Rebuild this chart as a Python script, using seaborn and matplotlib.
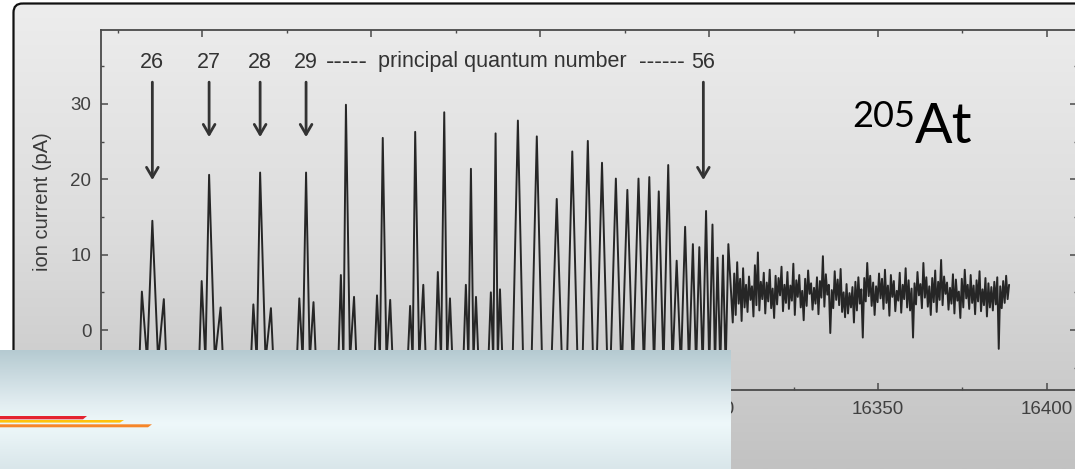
import numpy as np
import pandas as pd
import matplotlib
matplotlib.use("Agg")
import matplotlib.pyplot as plt
import seaborn as sns
from matplotlib.patches import FancyBboxPatch, Polygon
from matplotlib.colors import LinearSegmentedColormap
from matplotlib.ticker import MultipleLocator

# ---------------- data ----------------
# main resonance peaks: wavenumber (cm-1) and ion current (pA)
peak_pos = [16135.2, 16152.0, 16167.1, 16180.7, 16192.5, 16203.4, 16213.0, 16221.6,
            16229.5, 16236.8, 16243.4, 16249.0, 16254.9, 16259.5, 16264.1, 16268.3,
            16272.4, 16275.8, 16279.1, 16282.3, 16285.1, 16287.9, 16290.4, 16292.9,
            16295.2, 16297.1, 16299.1, 16301.0, 16302.5, 16304.1, 16305.7]
peak_height = [14.5, 20.6, 20.9, 20.9, 29.9, 25.5, 26.3, 28.9,
               21.4, 26.1, 27.8, 25.7, 17.4, 23.7, 25.1, 22.2,
               20.1, 18.6, 20.1, 20.3, 18.4, 21.9, 9.2, 13.7,
               11.4, 11.0, 15.8, 14.0, 9.6, 9.9, 11.4]
# satellite peaks beside the first resonances
side_left = [5.1, 6.5, 3.4, 4.2, 7.3, 4.6, 3.2, 7.7, 6.0, 5.0]
side_left_offset = [3.1, 2.2, 2.0, 2.0, 1.5, 1.7, 1.5, 1.9, 1.5, 1.4]
side_right = [4.1, 3.0, 2.9, 3.7, 4.4, 4.0, 6.0, 4.2, 4.4, 5.4]
side_right_offset = [3.4, 3.4, 3.2, 2.2, 2.4, 2.2, 2.4, 1.7, 1.5, 1.3]
baseline = -5.0

# unresolved region above the series limit
noise_start, noise_end = 16307.0, 16388.8
noise_current = [
    1.0, 7.5, 2.0, 9.0, 3.5, 6.8, 1.2, 8.2, 3.0, 6.0, 2.4, 7.1, 4.0, 5.8, 1.8, 8.6, 3.3, 10.3, 2.6, 6.4,
    4.1, 7.6, 2.2, 6.3, 3.8, 8.0, 2.9, 5.5, 1.6, 7.2, 3.4, 6.9, 4.6, 8.4, 2.5, 6.0, 3.6, 7.7, 2.8, 5.9,
    3.9, 8.8, 2.0, 6.6, 4.4, 7.3, 3.0, 5.2, 1.3, 6.8, 3.2, 7.9, 4.8, 6.2, 2.7, 5.6, 3.5, 7.0, 2.1, 6.5,
    4.3, 9.8, 3.1, 7.4, 4.7, 6.0, -0.4, 5.3, 2.9, 7.8, 4.0, 6.7, 3.3, 8.1, 2.4, 5.0, 1.7, 6.1, 2.2, 4.9,
    3.0, 5.7, 1.0, 6.4, 2.6, 7.0, 3.5, 5.4, -1.0, 6.9, 3.8, 8.9, 4.5, 7.2, 3.2, 6.3, 2.0, 5.8, 3.7, 7.5,
    4.2, 6.8, 2.8, 8.0, 3.6, 5.9, 1.9, 7.3, 4.4, 6.5, 2.5, 5.2, 3.9, 7.6, 2.3, 6.0, 4.1, 8.2, 3.0, 6.6,
    2.6, 5.5, -1.0, 6.2, 3.4, 7.7, 4.6, 6.1, 2.9, 8.9, 4.3, 7.0, 3.1, 5.8, 2.0, 6.9, 3.7, 7.9, 2.4, 6.4,
    4.0, 9.3, 3.3, 7.1, 4.8, 6.3, 2.7, 5.6, 3.5, 7.4, 2.2, 6.7, 3.9, 5.1, 1.6, 6.8, 3.0, 8.0, 4.2, 6.0,
    2.8, 7.3, 3.6, 5.9, 2.1, 6.6, 3.8, 7.8, 2.5, 5.4, 3.3, 6.9, 1.8, 6.2, 3.0, 5.7, 2.6, 6.4, 3.4, 7.0,
    -2.5, 5.8, 2.9, 6.5, 3.6, 7.2, 4.1, 6.0]

# principal quantum number annotations
n_labels = ["26", "27", "28", "29", "56"]
n_pos = [16135.2, 16152.0, 16167.1, 16180.7, 16298.3]
arrow_tip = [19.9, 25.6, 25.6, 25.6, 19.9]

x_ticks = [16150, 16200, 16250, 16300, 16350, 16400]
y_ticks = [0, 10, 20, 30]

# ---------------- build trace from peak table ----------------
xs, ys = [], []
npk = len(peak_pos)
for i in range(npk):
    p, h = peak_pos[i], peak_height[i]
    gl = (p - peak_pos[i - 1]) / 2 if i > 0 else 3.0
    gr = (peak_pos[i + 1] - p) / 2 if i < npk - 1 else 1.0
    hw_l, hw_r = min(1.6, gl), min(1.6, gr)
    if i < len(side_left):
        dl, dr = side_left_offset[i], side_right_offset[i]
        xs += [p - dl - 0.8, p - dl, p - dl / 2, p, p + dr / 2, p + dr, p + dr + 0.8]
        ys += [baseline, side_left[i], baseline + 1, h, baseline + 1, side_right[i], baseline]
    elif i < npk - 1:
        xs += [p - hw_l, p, p + hw_r]
        ys += [baseline, h, baseline]
    else:
        xs += [p - hw_l, p]
        ys += [baseline, h]
xs += list(np.linspace(noise_start, noise_end, len(noise_current)))
ys += noise_current
trace = pd.DataFrame({"wavenumber": xs, "current": ys})

# ---------------- figure ----------------
W, H = 1075, 469
sns.set_theme(style="ticks")
plt.rcParams["font.family"] = ["Liberation Sans", "DejaVu Sans"]
fig = plt.figure(figsize=(W / 100, H / 100), dpi=100)
fig.patch.set_facecolor("white")

# slide background with rounded frame
bg = fig.add_axes([0, 0, 1, 1], zorder=0)
bg.set_xlim(0, W)
bg.set_ylim(H, 0)
bg.axis("off")
grad = np.linspace(0, 1, 256).reshape(-1, 1)
gray_cmap = LinearSegmentedColormap.from_list("g", ["#ededed", "#dcdcdc", "#c2c2c2"])
frame_clip = FancyBboxPatch((13.5, 3.5), 1300, 700, boxstyle="round,pad=0,rounding_size=9",
                            transform=bg.transData, fc="none", ec="none")
bg.add_patch(frame_clip)
im = bg.imshow(grad, extent=(13, W, H, 3), aspect="auto", cmap=gray_cmap, interpolation="bilinear")
im.set_clip_path(frame_clip)
bg.add_patch(FancyBboxPatch((13.5, 3.5), 1300, 700, boxstyle="round,pad=0,rounding_size=9",
                            fc="none", ec="#111111", lw=1.6))

# main chart axes
ax = fig.add_axes([101 / W, 1 - 390 / H, 976 / W, 360 / H], zorder=2)
ax.patch.set_alpha(0)
sns.lineplot(data=trace, x="wavenumber", y="current", sort=False, estimator=None,
             color="#262626", lw=1.4, ax=ax)
ax.set_xlim(16120, 16408.9)
ax.set_ylim(-7.96, 39.82)
ax.set_xticks(x_ticks)
ax.set_yticks(y_ticks)
ax.xaxis.set_minor_locator(MultipleLocator(25))
ax.yaxis.set_minor_locator(MultipleLocator(5))
ax.set_xlabel("")
ax.set_ylabel("ion current (pA)", fontsize=14.5, color="#3a3a3a")
ax.yaxis.set_label_coords(-0.050, 0.522)
for s in ax.spines.values():
    s.set_color("#4a4a4a")
    s.set_linewidth(1.3)
ax.tick_params(which="both", direction="in", top=True, right=True, color="#4a4a4a",
               labelcolor="#404040", labelsize=13.5)
ax.tick_params(which="major", length=5, width=1.1)
ax.tick_params(which="minor", length=2.5, width=1.0)
ax.tick_params(axis="x", pad=8)
ax.tick_params(axis="y", pad=7)

# quantum number labels and arrows
for lab, xp, tip in zip(n_labels, n_pos, arrow_tip):
    ax.text(xp, 35.5, lab, ha="center", va="center", fontsize=15.5, color="#333333")
    ax.annotate("", xy=(xp, tip), xytext=(xp, 32.9),
                arrowprops=dict(arrowstyle="->,head_length=0.6,head_width=0.35", lw=2.0,
                                color="#333333", shrinkA=0, shrinkB=0))
dash_y = 35.6
ax.text(16186.6, dash_y, "-----", ha="left", va="center", fontsize=18, color="#333333")
ax.text(16202.0, dash_y, "principal quantum number", ha="left", va="center",
        fontsize=15.5, color="#333333")
ax.text(16279.2, dash_y, "------", ha="left", va="center", fontsize=16.5, color="#333333")

# isotope label
fig.text(852 / W, 1 - 127 / H, "205", fontsize=26, family=["Lato", "DejaVu Sans"],
         ha="left", va="baseline", color="black")
fig.text(915 / W, 1 - 143 / H, "At", fontsize=40, family=["Lato", "DejaVu Sans"],
         ha="left", va="baseline", color="black")

# overlay banner at the bottom of the slide
ov = fig.add_axes([0, 0, 731 / W, 119 / H], zorder=5)
ov.set_xlim(0, 731)
ov.set_ylim(H, 350)
ov.axis("off")
blue_cmap = LinearSegmentedColormap.from_list(
    "b", [(0, "#b5cad1"), (0.45, "#e2edf1"), (0.62, "#eef8fa"), (1.0, "#d9e6ea")])
ov.imshow(grad, extent=(0, 731, H, 350), aspect="auto", cmap=blue_cmap, interpolation="bilinear")
ov.add_patch(Polygon([(0, 416.0), (87, 416.0), (83, 419.3), (0, 419.3)], closed=True,
                     fc="#e42230", ec="none"))
ov.add_patch(Polygon([(0, 420.0), (124, 420.0), (120, 422.6), (0, 422.6)], closed=True,
                     fc="#ffc20e", ec="none"))
ov.add_patch(Polygon([(0, 424.3), (152, 424.3), (148, 427.3), (0, 427.3)], closed=True,
                     fc="#f6862a", ec="none"))

fig.savefig("out.png", dpi=100)
